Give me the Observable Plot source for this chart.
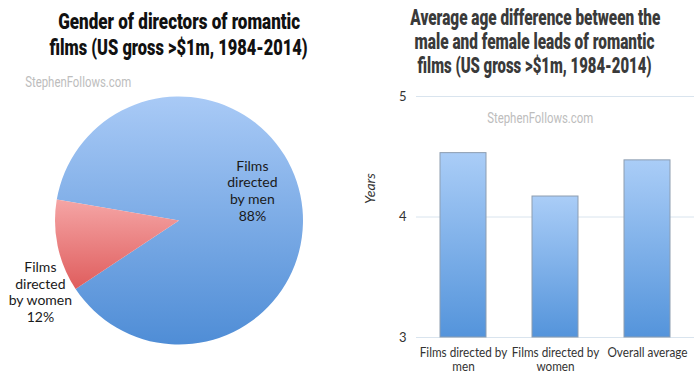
<!DOCTYPE html>
<html><head><meta charset="utf-8">
<script src="https://cdn.jsdelivr.net/npm/d3@7"></script>
<script src="https://cdn.jsdelivr.net/npm/@observablehq/plot@0.6"></script>
<style>
body{margin:0;background:#fff;}
#wrap{position:relative;width:700px;height:384px;overflow:hidden;font-family:Lato,sans-serif;}
.line{position:absolute;width:400px;text-align:center;white-space:nowrap;}
.line span{display:inline-block;transform-origin:50% 50%;}
.t{font-family:Roboto,"DejaVu Sans",sans-serif;font-weight:900;font-size:22px;line-height:24px;}
.wm{font-family:Roboto,"DejaVu Sans",sans-serif;color:#bdbdbd;font-size:14px;line-height:16px;}
#left,#right{position:absolute;}
</style></head>
<body><div id="wrap">
<div id="left" style="left:0;top:0"></div>
<div id="right" style="left:350px;top:80px"></div>
<div class="line t" style="left:-21px;top:10px;color:#111"><span data-w="242">Gender of directors of romantic</span></div>
<div class="line t" style="left:-21px;top:36px;color:#111"><span data-w="258">films (US gross &gt;$1m, 1984-2014)</span></div>
<div class="line t" style="left:335px;top:6px;color:#3a3a3a"><span data-w="250">Average age difference between the</span></div>
<div class="line t" style="left:335px;top:30px;color:#3a3a3a"><span data-w="240">male and female leads of romantic</span></div>
<div class="line t" style="left:335px;top:54px;color:#3a3a3a"><span data-w="234">films (US gross &gt;$1m, 1984-2014)</span></div>
<div class="line wm" style="left:-122px;top:74px"><span data-w="106">StephenFollows.com</span></div>
<div class="line wm" style="left:340px;top:110px"><span data-w="106">StephenFollows.com</span></div>
</div>
<script>
// ---- data ----
const pieCategories = ["Films directed by men", "Films directed by women"];
const pieLabels = ["Films\ndirected\nby men\n88%", "Films\ndirected\nby women\n12%"];
const pieShares = [88, 12];

const barCategories = ["Films directed by men", "Films directed by women", "Overall average"];
const barTickLabels = ["Films directed by\nmen", "Films directed by\nwomen", "Overall average"];
const barValues = [4.53, 4.17, 4.47];
const yTicks = [3, 4, 5];

// fit condensed-looking text lines
document.querySelectorAll("span[data-w]").forEach(s => {
  const w = s.getBoundingClientRect().width;
  s.style.transform = `scaleX(${(+s.dataset.w / w).toFixed(4)})`;
});

// ---- pie ----
const pieData = pieCategories.map((c, i) => ({category: c, share: pieShares[i], label: pieLabels[i]}));
const cx = 179, cy = 220.5, R = 124;
const start = -80.3 * Math.PI / 180;
const arcs = d3.pie().sort(null).value(d => d.share).startAngle(start).endAngle(start + 2 * Math.PI)(pieData);
const labelPlace = [{shift: -10.8, r: 79}, {shift: -15, r: 156}];
const labelPts = arcs.map((a, i) => {
  const m = (a.startAngle + a.endAngle) / 2 + labelPlace[i].shift * Math.PI / 180;
  const r = labelPlace[i].r;
  return {x: cx + r * Math.sin(m), y: cy - r * Math.cos(m), text: a.data.label};
});
const pieColors = [["#a9caf6", "#4f8dd6"], ["#f5a5a5", "#df5d5d"]];

function pieSlices(index, scales, values, dims, context) {
  const g = d3.create("svg:g");
  const defs = g.append("defs");
  pieColors.forEach((c, i) => {
    const lg = defs.append("linearGradient").attr("id", "pg" + i).attr("x1", 0).attr("y1", 0).attr("x2", 0).attr("y2", 1);
    lg.append("stop").attr("offset", "0%").attr("stop-color", c[0]);
    lg.append("stop").attr("offset", "100%").attr("stop-color", c[1]);
  });
  const arc = d3.arc().innerRadius(0).outerRadius(R);
  g.selectAll("path").data(arcs).join("path")
    .attr("transform", `translate(${cx},${cy})`)
    .attr("d", arc)
    .attr("fill", (d, i) => `url(#pg${i})`);
  return g.node();
}

const left = Plot.plot({
  width: 350, height: 384, margin: 0,
  x: {type: "identity", axis: null},
  y: {type: "identity", axis: null},
  marks: [
    pieSlices,
    Plot.text(labelPts, {x: "x", y: "y", text: "text", fontSize: 14, lineHeight: 1.2, fill: "#1a1a1a", fontFamily: "Lato, sans-serif", lineAnchor: "middle"})
  ]
});
document.getElementById("left").append(left);

// ---- bars ----
const barData = barCategories.map((c, i) => ({category: c, value: barValues[i]}));
function barDefs() {
  const d = d3.create("svg:defs");
  const lg = d.append("linearGradient").attr("id", "bg0").attr("x1", 0).attr("y1", 0).attr("x2", 0).attr("y2", 1);
  lg.append("stop").attr("offset", "0%").attr("stop-color", "#aacdf7");
  lg.append("stop").attr("offset", "100%").attr("stop-color", "#5494db");
  return d.node();
}
const right = Plot.plot({
  width: 350, height: 304,
  marginTop: 16, marginBottom: 47, marginLeft: 66, marginRight: 6,
  style: {fontFamily: "Lato, sans-serif", fontSize: "13px", color: "#333"},
  x: {domain: barCategories, paddingInner: 0.5, paddingOuter: 0.25, label: null},
  y: {domain: [3, 5], label: null},
  marks: [
    barDefs,
    Plot.gridY(yTicks, {stroke: "#d9e4ee", strokeOpacity: 1}),
    Plot.barY(barData, {x: "category", y1: 3, y2: "value", fill: "url(#bg0)", stroke: "#8d9db0", strokeWidth: 1}),
    Plot.axisY(yTicks, {tickSize: 0, tickPadding: 10, label: null, fontSize: 13, tickFormat: d3.format("d")}),
    Plot.axisX({tickSize: 0, tickPadding: 10, label: null, fontSize: 13, lineHeight: 1.08,
      tickFormat: d => barTickLabels[barCategories.indexOf(d)]}),
    Plot.text(["Years"], {text: d => d, frameAnchor: "left", rotate: -90, dx: -46, dy: -13, fontStyle: "italic", fontSize: 14, fill: "#333"})
  ]
});
document.getElementById("right").append(right);

// condense x tick labels (the reference uses a narrow face), scaling each about its own centre
const xt = d3.select(right).selectAll("g[aria-label='x-axis tick label'] text").nodes();
let maxW = 0;
xt.forEach(n => { maxW = Math.max(maxW, n.getBBox().width); });
const k = maxW > 0 ? Math.min(1, 88 / maxW) : 1;
xt.forEach(n => {
  const g = document.createElementNS("http://www.w3.org/2000/svg", "g");
  n.parentNode.insertBefore(g, n);
  g.appendChild(n);
  const bb = g.getBBox();
  const c = bb.x + bb.width / 2;
  g.setAttribute("transform", `translate(${c},0) scale(${k.toFixed(4)},1) translate(${-c},0)`);
});
</script>
</body></html>
